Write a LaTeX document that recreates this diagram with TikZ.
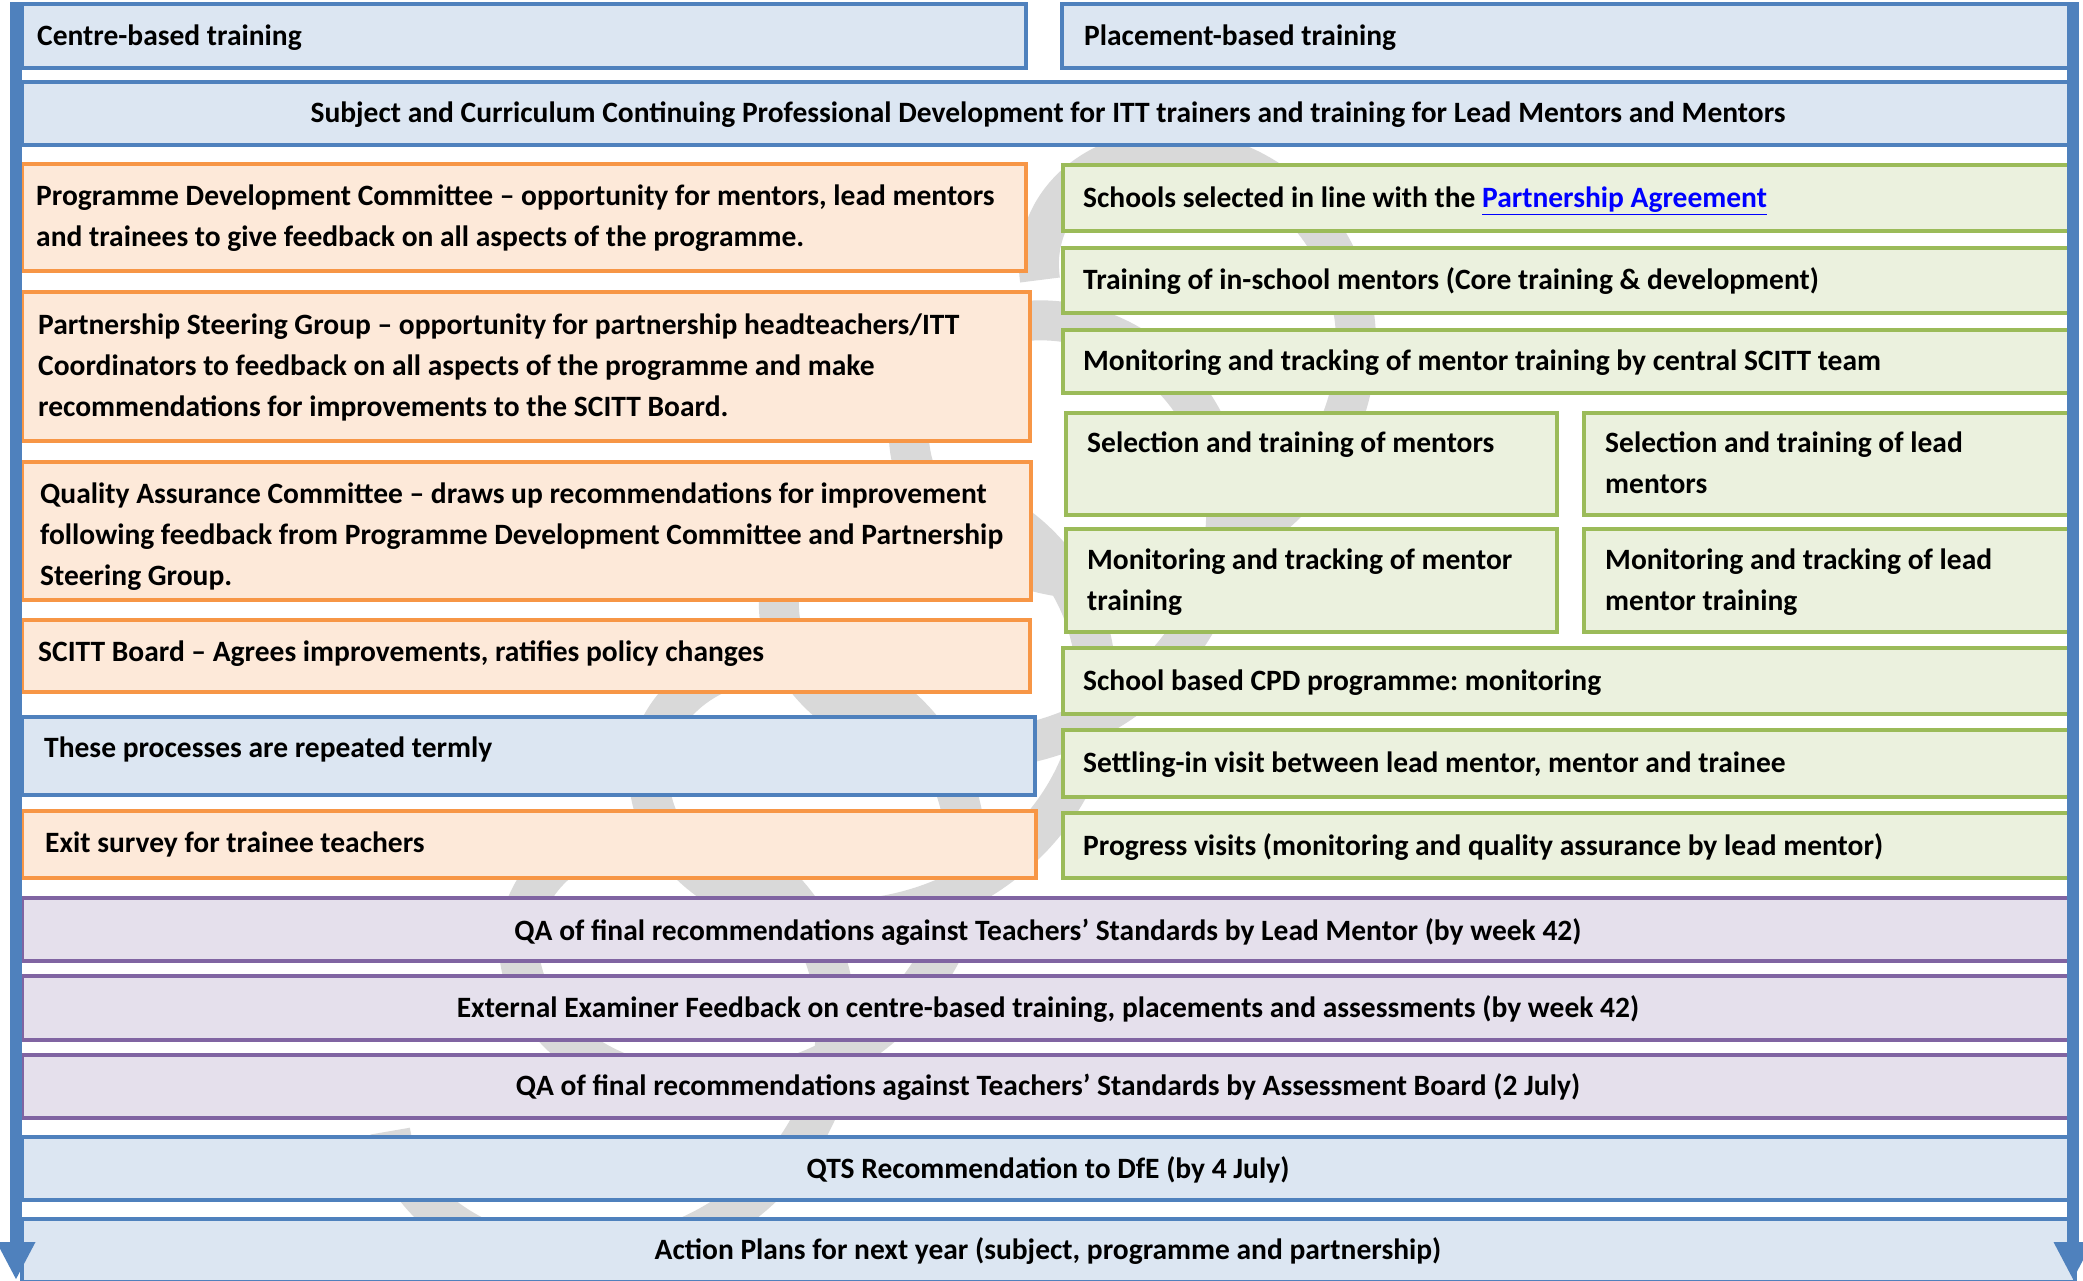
\documentclass[tikz,border=0pt]{standalone}
\usepackage{fontspec}
\setmainfont{Carlito}
\frenchspacing
\usetikzlibrary{arrows.meta}
\definecolor{blueB}{HTML}{4F81BD}
\definecolor{blueF}{HTML}{DCE6F2}
\definecolor{orangeB}{HTML}{F79646}
\definecolor{orangeF}{HTML}{FDE9D9}
\definecolor{greenB}{HTML}{9BBB59}
\definecolor{greenF}{HTML}{EBF1DE}
\definecolor{purpleB}{HTML}{8064A2}
\definecolor{purpleF}{HTML}{E5E0EC}
\definecolor{coilgray}{HTML}{D9D9D9}
\definecolor{linkblue}{HTML}{0000FF}
\newcommand\mybox[6]{\node[#1, anchor=north west, minimum width={#4pt-#2pt}, minimum height={#5pt-#3pt}] (#6) at (#2,#3) {};}
\tikzset{
  box/.style={draw, line width=4.5pt, inner sep=0pt, outer sep=0pt},
  bbox/.style={box, draw=blueB, fill=blueF},
  obox/.style={box, draw=orangeB, fill=orangeF},
  gbox/.style={box, draw=greenB, fill=greenF},
  pbox/.style={box, draw=purpleB, fill=purpleF},
  txt/.style={anchor=base west, inner sep=0pt, align=left, yshift=-2.5pt, font=\fontsize{29.5}{41}\selectfont\bfseries},
  ctxt/.style={txt, anchor=base, align=center},
  flow/.style={draw=blueB, line width=12pt, -{Triangle[width=36pt,length=38pt]}},
  coil/.style={draw=coilgray, line width=40pt}
}
\begin{document}
\begin{tikzpicture}[x=1pt,y=-1pt]
\useasboundingbox (0,0) rectangle (2083,1280);
% background watermark coil
\draw[coil] plot[variable=\t, domain=0:1, samples=900, smooth]
  ({1230-650*\t+190*cos(180+1800*\t)}, {280+850*\t+170*sin(180+1800*\t)});
% top row
\mybox{bbox}{22}{4}{1026}{68}{cbt}
\mybox{bbox}{1062}{4}{2075}{68}{pbt}
\mybox{bbox}{22}{82}{2075}{145}{cpd}
% left column
\mybox{obox}{22}{164}{1026}{271}{pdc}
\mybox{obox}{22}{292}{1030}{441}{psg}
\mybox{obox}{22}{462}{1031}{600}{qac}
\mybox{obox}{22}{620}{1030}{692}{sb}
\mybox{bbox}{22}{717}{1035}{795}{rep}
\mybox{obox}{22}{811}{1036}{878}{exit}
% right column
\mybox{gbox}{1063}{165}{2075}{231}{sch}
\mybox{gbox}{1063}{248}{2075}{313}{trn}
\mybox{gbox}{1063}{330}{2075}{393}{mon}
\mybox{gbox}{1066}{413}{1557}{515}{selm}
\mybox{gbox}{1584}{413}{2075}{515}{sell}
\mybox{gbox}{1066}{529}{1557}{632}{monm}
\mybox{gbox}{1584}{529}{2075}{632}{monl}
\mybox{gbox}{1063}{648}{2075}{714}{scpd}
\mybox{gbox}{1063}{730}{2075}{797}{set}
\mybox{gbox}{1063}{813}{2075}{878}{prog}
% bottom rows
\mybox{pbox}{22}{898}{2075}{961}{qa1}
\mybox{pbox}{22}{976}{2075}{1040}{ext}
\mybox{pbox}{22}{1055}{2075}{1118}{qa2}
\mybox{bbox}{22}{1137}{2075}{1200}{qts}
\mybox{bbox}{22}{1219}{2075}{1282}{act}
% texts (base anchor of multi-line nodes = last line)
\node[txt] (cbtT) at (37,43) {Centre-based training};
\node[txt] (pbtT) at (1084,43) {Placement-based training};
\node[ctxt] (cpdT) at (1048,120) {Subject and Curriculum Continuing Professional Development for ITT trainers and training for Lead Mentors and Mentors};
\node[txt] (pdcT) at (36,244) {Programme Development Committee – opportunity for mentors, lead mentors\\and trainees to give feedback on all aspects of the programme.};
\node[txt] (psgT) at (38,414) {Partnership Steering Group – opportunity for partnership headteachers/ITT\\Coordinators to feedback on all aspects of the programme and make\\recommendations for improvements to the SCITT Board.};
\node[txt] (qacT) at (40,583) {Quality Assurance Committee – draws up recommendations for improvement\\following feedback from Programme Development Committee and Partnership\\Steering Group.};
\node[txt] (sbT) at (38,659) {SCITT Board – Agrees improvements, ratifies policy changes};
\node[txt] (repT) at (44,755) {These processes are repeated termly};
\node[txt] (exitT) at (45,850) {Exit survey for trainee teachers};
\node[txt] (schT) at (1083,205) {Schools selected in line with the \textcolor{linkblue}{\underline{Partnership Agreement}}};
\node[txt] (trnT) at (1083,287) {Training of in-school mentors (Core training \& development)};
\node[txt] (monT) at (1083,368) {Monitoring and tracking of mentor training by central SCITT team};
\node[txt] (selmT) at (1087,450) {Selection and training of mentors};
\node[txt] (sellT) at (1605,491) {Selection and training of lead\\mentors};
\node[txt] (monmT) at (1087,608) {Monitoring and tracking of mentor\\training};
\node[txt] (monlT) at (1605,608) {Monitoring and tracking of lead\\mentor training};
\node[txt] (scpdT) at (1083,688) {School based CPD programme: monitoring};
\node[txt] (setT) at (1083,770) {Settling-in visit between lead mentor, mentor and trainee};
\node[txt] (progT) at (1083,853) {Progress visits (monitoring and quality assurance by lead mentor)};
\node[ctxt] (qa1T) at (1048,938) {QA of final recommendations against Teachers’ Standards by Lead Mentor (by week 42)};
\node[ctxt] (extT) at (1048,1015) {External Examiner Feedback on centre-based training, placements and assessments (by week 42)};
\node[ctxt] (qa2T) at (1048,1093) {QA of final recommendations against Teachers’ Standards by Assessment Board (2 July)};
\node[ctxt] (qtsT) at (1048,1176) {QTS Recommendation to DfE (by 4 July)};
\node[ctxt] (actT) at (1048,1257) {Action Plans for next year (subject, programme and partnership)};
% flow arrows
\coordinate (ltop) at (16,2);
\coordinate (lbot) at (16,1280);
\coordinate (rtop) at (2073,2);
\coordinate (rbot) at (2073,1280);
\draw[flow] (ltop) -- (lbot);
\draw[flow] (rtop) -- (rbot);
\end{tikzpicture}
\end{document}
